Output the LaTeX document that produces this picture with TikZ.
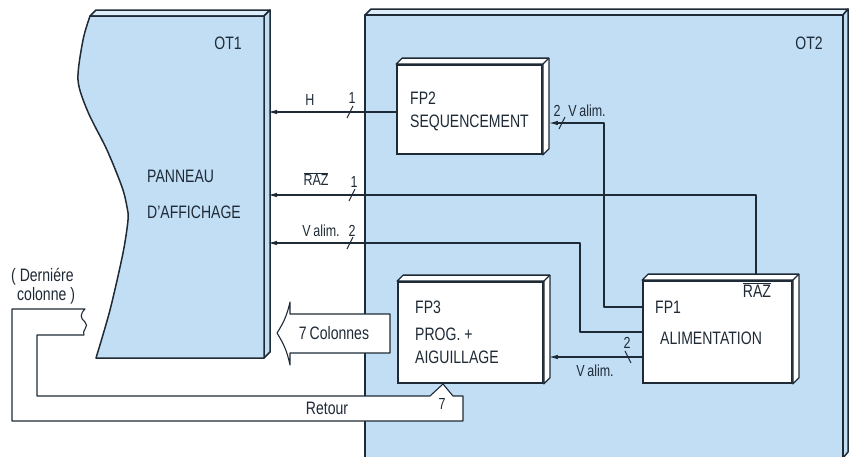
\documentclass[tikz,border=0pt]{standalone}
\usepackage{fontspec}
\setmainfont{Liberation Sans}[FakeStretch=0.78]
\usetikzlibrary{arrows.meta}
\definecolor{panel}{HTML}{C2DEF4}
\definecolor{panellt}{HTML}{DDEDF9}
\definecolor{ink}{HTML}{1E2A36}
\begin{document}
\begin{tikzpicture}[x=1pt,y=-1pt,
  edge/.style={draw=ink, line width=1.5pt, line join=round},
  wire/.style={draw=ink, line width=1.1pt, line join=round},
  arr/.style={-{Latex[length=9pt,width=4.5pt]}},
  fpbox/.style={draw=ink, line width=1.8pt, fill=white, inner sep=0pt},
  big/.style={font=\fontsize{18}{21}\selectfont, inner sep=0pt, text=ink},
  lbl/.style={font=\fontsize{16}{18}\selectfont, inner sep=0pt, text=ink},
  tickmark/.style={draw=ink, line width=1pt},
  ]
\useasboundingbox (0,0) rectangle (856,456);

% ---------- OT1 panel ----------
\filldraw[edge, fill=panellt] (90,16) -- (96,10) -- (270,10) -- (264,16) -- cycle;
\filldraw[edge, fill=panel] (264,16) -- (270,10) -- (270,352) -- (264,358) -- cycle;
\filldraw[edge, fill=panel] (90,16) -- (264,16) -- (264,358) -- (96,358)
  -- plot[smooth] coordinates {(96,358) (110,310) (123,253) (128,220) (127,207) (122,187) (107,150) (88,112) (78,80) (83,40) (90,16)} -- cycle;

% ---------- OT2 panel ----------
\filldraw[edge, fill=panellt] (365,15) -- (371,9) -- (848,9) -- (843,15) -- cycle;
\filldraw[edge, fill=panel] (843,15) -- (848,9) -- (848,452) -- (843,458) -- cycle;
\filldraw[edge, fill=panel] (365,462) -- (365,15) -- (843,15) -- (843,462);

% ---------- Retour band ----------
\filldraw[wire, fill=white] (12,309) -- (85,309)
  .. controls (80,314) and (80,318) .. (85,322)
  .. controls (90,326) and (81,331) .. (84,335)
  -- (37,335) -- (37,396) -- (430,396) -- (443,384) -- (453,396) -- (463,396)
  -- (463,421) -- (12,421) -- cycle;

% ---------- 7 Colonnes arrow ----------
\filldraw[wire, fill=white] (390,314) -- (290,314) -- (290,302)
  to[bend left=10] (277,333) to[bend left=10] (290,365) -- (290,353) -- (390,353) -- cycle;

% ---------- function boxes ----------
\node[fpbox, minimum width=145pt, minimum height=89pt] (fp2) at (469.5,109.5) {};
\node[fpbox, minimum width=149pt, minimum height=102pt] (fp1) at (717.5,332) {};
\node[fpbox, minimum width=145pt, minimum height=101pt] (fp3) at (470.5,332.5) {};
\foreach \b in {fp1,fp2,fp3}{
  \filldraw[fill=white, draw=ink, line width=1.3pt, line join=round]
    (\b.north west) -- ++(6,-6) -- ([shift={(6,-6)}]\b.north east)
    -- ([shift={(6,-6)}]\b.south east) -- (\b.south east) -- (\b.north east) -- cycle;
  \draw[draw=ink, line width=1.3pt] (\b.north east) -- ++(6,-6);
}

% ---------- coordinates on OT1 ----------
\coordinate (ot1h) at (268,112);
\coordinate (ot1raz) at (268,195);
\coordinate (ot1v) at (268,243);
\coordinate (razx) at (756,0);
\coordinate (bend1) at (580,0);
\coordinate (bend2) at (604,0);
\coordinate (fp2in) at ([xshift=6pt,yshift=-13.5pt]fp2.east);
\coordinate (fp3in) at ([xshift=5pt]fp3.east);

% ---------- connectors ----------
\draw[wire, arr] (fp2.west |- ot1h) -- (ot1h);
\draw[wire, arr] ([yshift=6pt]fp1.north -| razx) -- (razx |- ot1raz) -- (ot1raz);
\draw[wire, arr] (fp1.west) -- (fp1.west -| bend1) -- (bend1 |- ot1v) -- (ot1v);
\draw[wire, arr] ([yshift=25pt]fp1.west) -- ([yshift=25pt]fp1.west -| bend2) -- (bend2 |- fp2in) -- (fp2in);
\draw[wire, arr] ([yshift=-25pt]fp1.west) -- ([yshift=-25pt]fp1.west -| fp3in);

% ---------- bus tick marks ----------
\draw[tickmark] (347,118) -- (353,106);
\draw[tickmark] (349,201) -- (355,189);
\draw[tickmark] (347,249) -- (353,237);
\draw[tickmark] (559,129) -- (565,117);
\draw[tickmark] (625,351) -- (631,363);

% ---------- texts ----------
\node[big] (tot1) at (228,43) {OT1};
\node[big] (tot2) at (809,43) {OT2};
\node[big, anchor=west] (pan1) at (147,176) {PANNEAU};
\node[big, anchor=west] (pan2) at (147,212) {D’AFFICHAGE};

\node[big, anchor=west] (fp2a) at (410,98) {FP2};
\node[big, anchor=west] (fp2b) at (410,123) {SEQUENCEMENT};
\node[big, anchor=west] (fp1a) at (655,307) {FP1};
\node[big, anchor=west] (fp1b) at (660,338) {ALIMENTATION};
\node[big] (fp1c) at (757,290) {$\overline{\hbox{RAZ}}$};
\node[big, anchor=west] (fp3a) at (415,307) {FP3};
\node[big, anchor=west] (fp3b) at (415,334) {PROG. +};
\node[big, anchor=west] (fp3c) at (415,357) {AIGUILLAGE};

\node[lbl] (lh) at (310,100) {H};
\node[lbl] (lh1) at (352,98) {1};
\node[lbl] (lraz) at (316,179) {$\overline{\hbox{RAZ}}$};
\node[lbl] (lraz1) at (354,182) {1};
\node[lbl] (lv) at (321,231) {V\,alim.};
\node[lbl] (lv2) at (352,231) {2};
\node[lbl] (lf2) at (557,111) {2};
\node[lbl] (lf2v) at (587,111) {V\,alim.};
\node[lbl] (lf3) at (627,343) {2};
\node[lbl] (lf3v) at (595,371) {V\,alim.};
\node[big] (lcol) at (334,333) {7\,Colonnes};
\node[big] (lret) at (327,408) {Retour};
\node[lbl] (lret7) at (442,404) {7};
\node[big, anchor=west] (lder1) at (11,277) {( Derniére};
\node[big, anchor=west] (lder2) at (17,296) {colonne )};
\end{tikzpicture}
\end{document}
